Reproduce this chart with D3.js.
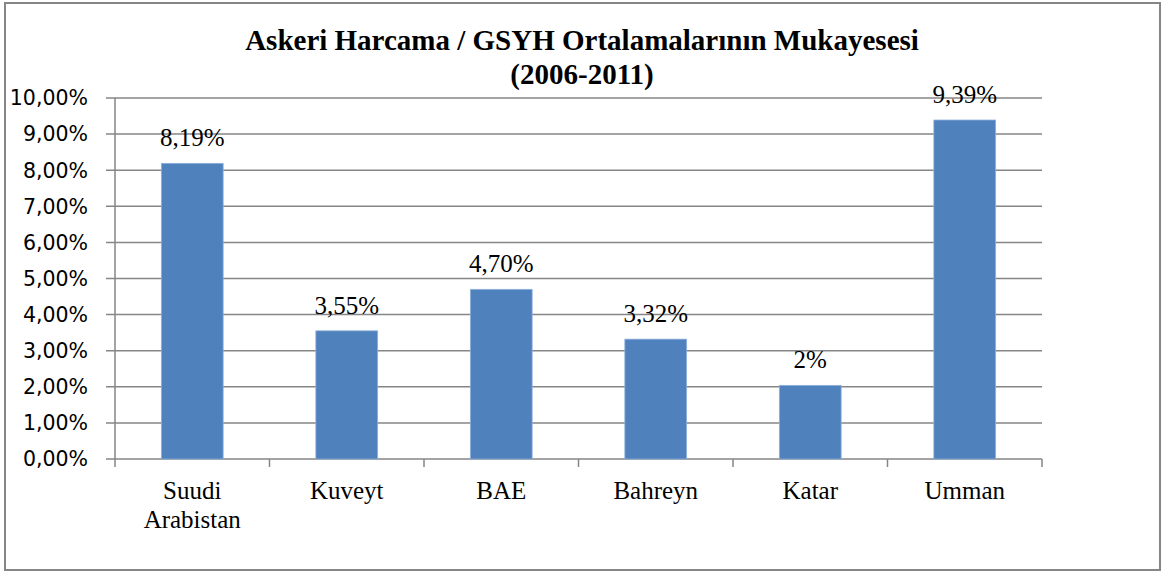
<!DOCTYPE html>
<html>
<head>
<meta charset="utf-8">
<script src="https://cdn.jsdelivr.net/npm/d3@7"></script>
<style>
    body { margin: 0; background: #fff; }
    svg text { fill: #000; }
</style>
</head>
<body>
<svg id="chart" width="1162" height="572"></svg>
<script>
// Data
const countries = [["Suudi", "Arabistan"], ["Kuveyt"], ["BAE"], ["Bahreyn"], ["Katar"], ["Umman"]];
const values = [8.19, 3.55, 4.70, 3.32, 2.04, 9.39];
const valueLabels = ["8,19%", "3,55%", "4,70%", "3,32%", "2%", "9,39%"];
const yTicks = [0, 1, 2, 3, 4, 5, 6, 7, 8, 9, 10];
const titleLines = ["Askeri Harcama / GSYH Ortalamalarının Mukayesesi", "(2006-2011)"];

const width = 1162;
const height = 572;
const margin = { top: 98, right: 120, bottom: 113, left: 115 };
const innerWidth = width - margin.left - margin.right;
const innerHeight = height - margin.top - margin.bottom;

const barColor = "#4f81bd";
const gridColor = "#868686";
const serifFont = "'Liberation Serif', 'Times New Roman', serif";
const sansFont = "'DejaVu Sans', sans-serif";

const svg = d3.select("#chart");

// Outer frame
svg.append("rect")
    .attr("x", 5)
    .attr("y", 3)
    .attr("width", 1155)
    .attr("height", 567)
    .attr("fill", "#fff")
    .attr("stroke", gridColor)
    .attr("stroke-width", 2);

// Title (two lines)
svg.append("text")
    .attr("font-family", serifFont)
    .attr("text-anchor", "middle")
    .attr("font-weight", "bold")
    .attr("font-size", 29)
    .selectAll("tspan")
    .data(titleLines)
    .join("tspan")
    .attr("x", 582)
    .attr("y", (d, i) => 50 + i * 34)
    .text(d => d);

const innerChart = svg.append("g")
    .attr("transform", `translate(${margin.left},${margin.top})`);

const xScale = d3.scaleBand()
    .domain(d3.range(countries.length))
    .range([0, innerWidth])
    .paddingInner(0.6)
    .paddingOuter(0.3);

const yScale = d3.scaleLinear()
    .domain([0, 10])
    .range([innerHeight, 0]);

// Gridlines (they stick out left as tick marks)
innerChart.selectAll(".grid")
    .data(yTicks)
    .join("line")
    .attr("class", "grid")
    .attr("x1", -9)
    .attr("x2", innerWidth)
    .attr("y1", d => yScale(d))
    .attr("y2", d => yScale(d))
    .attr("stroke", gridColor)
    .attr("stroke-width", 1.5);

innerChart.selectAll(".ytick")
    .data(yTicks)
    .join("text")
    .attr("class", "ytick")
    .attr("font-family", sansFont)
    .attr("font-size", 20.5)
    .attr("x", -27)
    .attr("y", d => yScale(d))
    .attr("dy", "0.36em")
    .attr("text-anchor", "end")
    .text(d => d3.format(".2f")(d).replace(".", ",") + "%");

// y axis line
innerChart.append("line")
    .attr("x1", 0).attr("x2", 0)
    .attr("y1", 0).attr("y2", innerHeight)
    .attr("stroke", gridColor)
    .attr("stroke-width", 1.5);

// category tick marks
const step = innerWidth / countries.length;
innerChart.selectAll(".xtick")
    .data(d3.range(countries.length + 1))
    .join("line")
    .attr("class", "xtick")
    .attr("x1", d => d * step)
    .attr("x2", d => d * step)
    .attr("y1", innerHeight)
    .attr("y2", innerHeight + 8)
    .attr("stroke", gridColor)
    .attr("stroke-width", 1.5);

// Bars
innerChart.selectAll(".bar")
    .data(values)
    .join("rect")
    .attr("class", "bar")
    .attr("x", (d, i) => xScale(i))
    .attr("width", xScale.bandwidth())
    .attr("y", d => yScale(d))
    .attr("height", d => innerHeight - yScale(d))
    .attr("fill", barColor)
    .attr("stroke", "#8eb0dc")
    .attr("stroke-width", 0.8);

// Value labels
innerChart.selectAll(".value")
    .data(values)
    .join("text")
    .attr("class", "value")
    .attr("font-family", serifFont)
    .attr("font-size", 25)
    .attr("text-anchor", "middle")
    .attr("x", (d, i) => xScale(i) + xScale.bandwidth() / 2)
    .attr("y", d => yScale(d) - 17)
    .text((d, i) => valueLabels[i]);

// Category labels
innerChart.selectAll(".cat")
    .data(countries)
    .join("text")
    .attr("class", "cat")
    .attr("font-family", serifFont)
    .attr("font-size", 25)
    .attr("text-anchor", "middle")
    .each(function (d, i) {
        d3.select(this).selectAll("tspan")
            .data(d)
            .join("tspan")
            .attr("x", xScale(i) + xScale.bandwidth() / 2)
            .attr("y", (t, j) => innerHeight + 40 + j * 29)
            .text(t => t);
    });
</script>
</body>
</html>
